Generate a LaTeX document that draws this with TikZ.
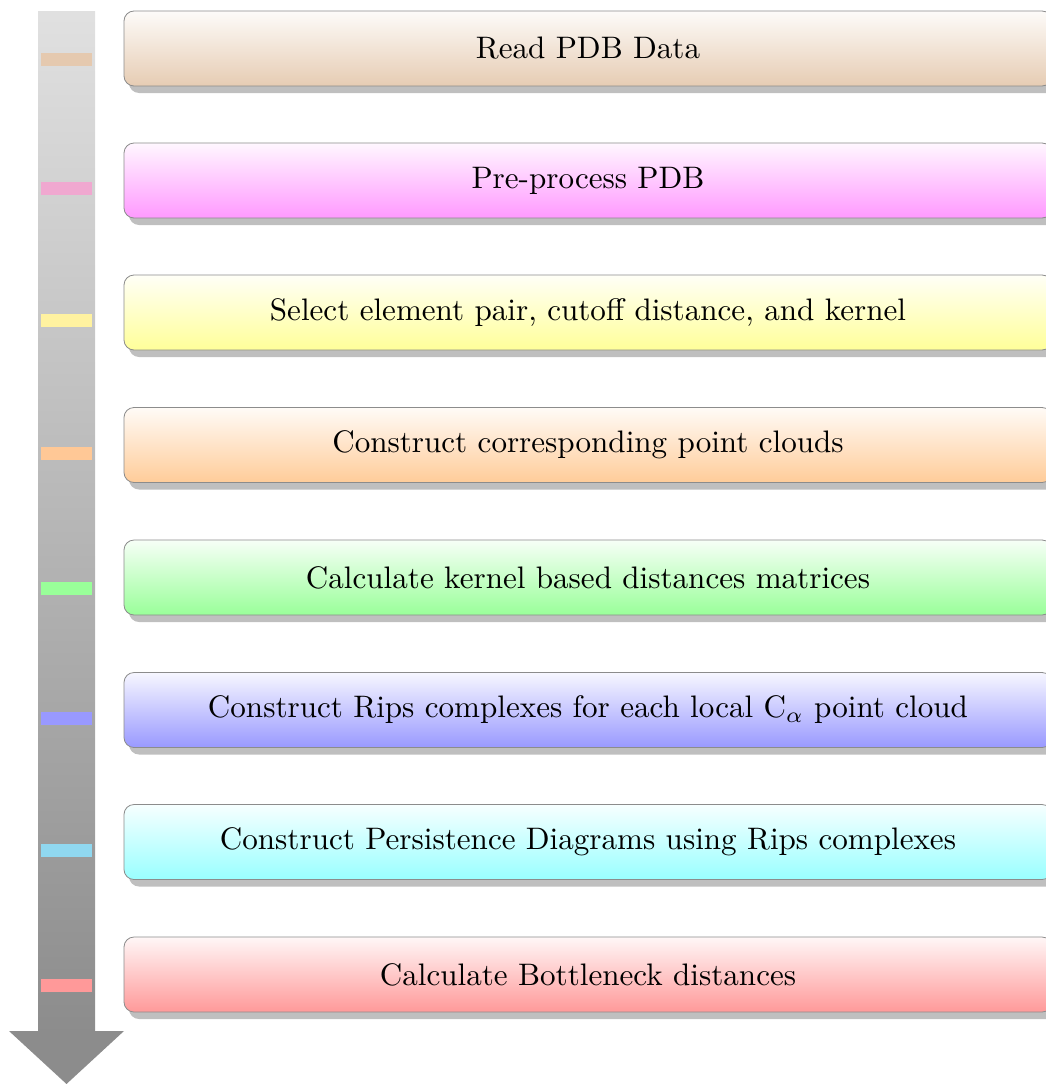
\documentclass[tikz,border=0pt]{standalone}
\usepackage{graphicx}
\usetikzlibrary{shadows}
\newcommand{\bigtxt}[1]{\scalebox{3.11}{#1}}
\tikzset{
  flowbox/.style={draw=black!45, line width=0.8pt, rounded corners=10pt,
    minimum width=928pt, minimum height=75pt, inner sep=0pt,
    top color=#1!8, bottom color=#1,
    drop shadow={shadow xshift=5pt, shadow yshift=-7pt, fill=black!25, opacity=1},
    font=\fontsize{10}{12}\selectfont},
  marker/.style={fill=#1, draw=none}
}
\definecolor{cbrown}{HTML}{E6CCB3}
\definecolor{cmag}{HTML}{FF99FF}
\definecolor{cyel}{HTML}{FFFF99}
\definecolor{cora}{HTML}{FFCC99}
\definecolor{cgre}{HTML}{99FF99}
\definecolor{cblu}{HTML}{9999FF}
\definecolor{ccya}{HTML}{99FFFF}
\definecolor{cred}{HTML}{FF9999}
\definecolor{mbrown}{HTML}{E5C9AF}
\definecolor{mmag}{HTML}{F0A8D0}
\definecolor{myel}{HTML}{FFF2A0}
\definecolor{mora}{HTML}{FFC896}
\definecolor{mgre}{HTML}{99FF99}
\definecolor{mblu}{HTML}{9999FF}
\definecolor{mcya}{HTML}{90D8F0}
\definecolor{mred}{HTML}{FF9999}
\begin{document}
\begin{tikzpicture}[x=1pt,y=-1pt]
\useasboundingbox (0,0) rectangle (1045,1084);
% arrow
\shade[top color=black!12, bottom color=black!45, draw=none] (38,11) rectangle (95,1032);
\fill[black!45] (9,1031) -- (124,1031) -- (66.5,1084) -- cycle;
% markers
\foreach \y/\c in {59.5/mbrown,188.5/mmag,320/myel,453/mora,588/mgre,718/mblu,850/mcya,985.5/mred}
  \fill[marker=\c] (41,\y-6.5) rectangle (92,\y+6.5);
% boxes
\node[flowbox=cbrown] (b1) at (588,48.5) {\bigtxt{Read PDB Data}};
\node[flowbox=cmag] (b2) at (588,180.5) {\bigtxt{Pre-process PDB}};
\node[flowbox=cyel] (b3) at (588,312.5) {\bigtxt{Select element pair, cutoff distance, and kernel}};
\node[flowbox=cora] (b4) at (588,445) {\bigtxt{Construct corresponding point clouds}};
\node[flowbox=cgre] (b5) at (588,577.5) {\bigtxt{Calculate kernel based distances matrices}};
\node[flowbox=cblu] (b6) at (588,710) {\bigtxt{Construct Rips complexes for each local C$_\alpha$ point cloud}};
\node[flowbox=ccya] (b7) at (588,842) {\bigtxt{Construct Persistence Diagrams using Rips complexes}};
\node[flowbox=cred] (b8) at (588,974.5) {\bigtxt{Calculate Bottleneck distances}};
\end{tikzpicture}
\end{document}
